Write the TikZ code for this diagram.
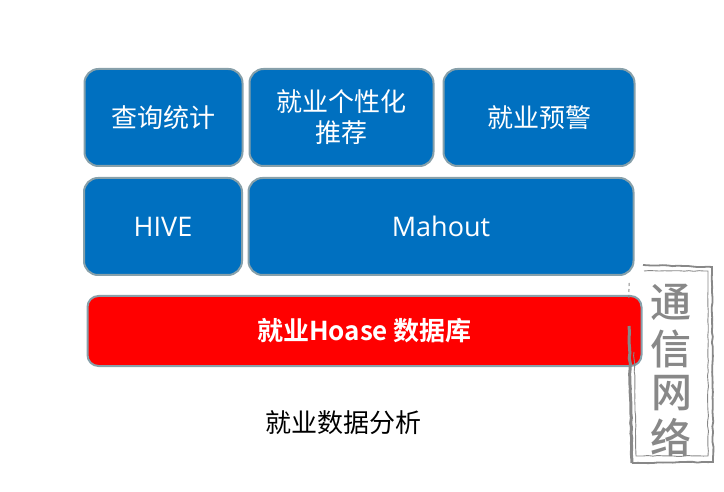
\documentclass[tikz,border=0pt]{standalone}
\usepackage{fontspec}
\setmainfont{Open Sans}
\newfontfamily\cjk{Noto Sans CJK SC}
\newfontfamily\cjkbold{Noto Sans CJK SC Bold}
\newfontfamily\cjkmedium{Noto Sans CJK SC Medium}
\usetikzlibrary{decorations.pathmorphing}
\definecolor{boxblue}{RGB}{0,112,192}
\definecolor{boxedge}{RGB}{135,160,170}
\definecolor{stampgray}{RGB}{136,136,136}
\tikzset{
  box/.style={draw=boxedge, line width=2pt, fill=boxblue, rounded corners=14pt,
    text=white, align=center, inner sep=0pt, font=\fontsize{26}{31}\selectfont\cjk},
  stampline/.style={draw=stampgray, decorate, decoration={random steps, segment length=5pt, amplitude=0.5pt}},
  stampchar/.style={text=stampgray, inner sep=0pt, font=\fontsize{41}{41}\selectfont\cjkmedium}
}
\begin{document}
\begin{tikzpicture}[x=1pt, y=-1pt]
  \useasboundingbox (0,0) rectangle (724,492);

  % Top row
  \node[box, minimum width=158pt, minimum height=97pt] (query) at (163.5,117.5) {查询统计};
  \node[box, minimum width=184pt, minimum height=97pt] (recommend) at (341.5,117.5) {就业个性化\\推荐};
  \node[box, minimum width=191pt, minimum height=97pt] (warning) at (539,117.5) {就业预警};

  % Middle row
  \node[box, minimum width=158pt, minimum height=97pt, font=\fontsize{27}{31}\selectfont] (hive) at (163,226.5) {HIVE};
  \node[box, minimum width=385pt, minimum height=97pt, font=\fontsize{27}{31}\selectfont] (mahout) at (441,226.5) {Mahout};

  % Database
  \node[box, fill=red, minimum width=554pt, minimum height=70pt, rounded corners=11pt,
    font=\fontsize{26}{30}\selectfont\cjkbold] (hbase) at (364.5,331) {就业Hoase 数据库};

  % Caption
  \node[inner sep=0pt, font=\fontsize{26}{31}\selectfont\cjk] (caption) at (343,423) {就业数据分析};

  % Stamp
  \draw[stampline, line width=1.8pt] (643,265) -- (712,267) -- (713,462) -- (632,463);
  \draw[stampline, line width=3pt] (632,463) -- (629,326);
  \draw[stampline, line width=0.9pt] (644,271) -- (708,271) -- (708,456) -- (636,456) -- (634,352);
  \draw[stampline, line width=1pt, dashed] (629,283) -- (629,300);
  \node[stampchar] (seala) at (671,302) {通};
  \node[stampchar] (sealb) at (671,349) {信};
  \node[stampchar] (sealc) at (672,393) {网};
  \node[stampchar] (seald) at (671,437) {络};
\end{tikzpicture}
\end{document}
